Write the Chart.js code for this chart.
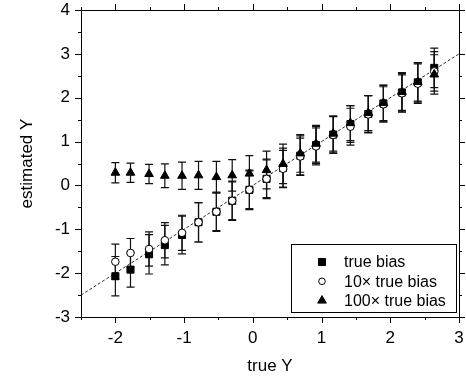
<!DOCTYPE html>
<html>
<head>
<meta charset="utf-8">
<script src="https://cdn.jsdelivr.net/npm/chart.js@4"></script>
<style>
    html, body { margin: 0; padding: 0; background: #fff; }
    #wrap { width: 466px; height: 384px; }
</style>
</head>
<body>
<div id="wrap"><canvas id="biasChart" width="466" height="384"></canvas></div>
<script>
// ========== DATA ==========
const trueY = [-2.00, -1.78, -1.51, -1.28, -1.03, -0.79, -0.53, -0.30, -0.05, 0.20,
               0.44, 0.69, 0.92, 1.17, 1.42, 1.68, 1.90, 2.17, 2.40, 2.64];

const trueBias = [-2.07, -1.92, -1.57, -1.36, -1.13, -0.84, -0.60, -0.35, -0.10, 0.15,
                  0.40, 0.68, 0.92, 1.16, 1.40, 1.63, 1.87, 2.12, 2.35, 2.68];
const trueBiasErr = [0.45, 0.40, 0.45, 0.45, 0.43, 0.45, 0.45, 0.45, 0.45, 0.45,
                     0.45, 0.45, 0.42, 0.42, 0.42, 0.42, 0.42, 0.45, 0.45, 0.45];

const bias10 = [-1.74, -1.54, -1.45, -1.25, -1.08, -0.84, -0.60, -0.35, -0.10, 0.15,
                0.38, 0.66, 0.89, 1.15, 1.34, 1.62, 1.85, 2.10, 2.32, 2.60];
const bias10Err = [0.40, 0.33, 0.39, 0.40, 0.40, 0.45, 0.43, 0.43, 0.43, 0.43,
                   0.42, 0.42, 0.42, 0.42, 0.42, 0.42, 0.40, 0.42, 0.45, 0.45];

const bias100 = [0.29, 0.29, 0.26, 0.22, 0.22, 0.23, 0.19, 0.23, 0.27, 0.35,
                 0.49, 0.73, 0.95, 1.18, 1.42, 1.65, 1.88, 2.13, 2.36, 2.53];
const bias100Err = [0.23, 0.22, 0.22, 0.27, 0.31, 0.32, 0.36, 0.36, 0.41, 0.43,
                    0.45, 0.43, 0.42, 0.40, 0.40, 0.40, 0.40, 0.42, 0.44, 0.45];

const refLineX = [-2.5, 3];
const refLineY = [-2.5, 3];

const xTicks = [-2, -1, 0, 1, 2, 3];
const xMinor = [-2.5, -1.5, -0.5, 0.5, 1.5, 2.5];
const yTicks = [-3, -2, -1, 0, 1, 2, 3, 4];
const yMinor = [-2.5, -1.5, -0.5, 0.5, 1.5, 2.5, 3.5];

const seriesLabels = ['true bias', '10\u00d7 true bias', '100\u00d7 true bias'];

const FONT = 'Arial, "Liberation Sans", Helvetica, sans-serif';

function toPoints(xs, ys) {
    return xs.map((x, i) => ({ x: x, y: ys[i] }));
}

// no label overhang padding, so the plot box fills the frame
function noOverhang(s) {
    s.paddingLeft = 0;
    s.paddingRight = 0;
    s.paddingTop = 0;
    s.paddingBottom = 0;
}

// ========== PLUGINS ==========
// vertical error bars, drawn under the markers
const errorBars = {
    id: 'errorBars',
    beforeDatasetsDraw(chart) {
        const ctx = chart.ctx;
        const xs = chart.scales.x, ys = chart.scales.y;
        ctx.save();
        ctx.strokeStyle = '#111';
        ctx.lineWidth = 1.2;
        chart.data.datasets.forEach(ds => {
            if (!ds.errors) return;
            ds.data.forEach((p, i) => {
                const px = xs.getPixelForValue(p.x);
                const top = ys.getPixelForValue(p.y + ds.errors[i]);
                const bot = ys.getPixelForValue(p.y - ds.errors[i]);
                ctx.beginPath();
                ctx.moveTo(px, top); ctx.lineTo(px, bot);
                ctx.moveTo(px - 4, top); ctx.lineTo(px + 4, top);
                ctx.moveTo(px - 4, bot); ctx.lineTo(px + 4, bot);
                ctx.stroke();
            });
        });
        ctx.restore();
    }
};

// box frame with major / minor ticks on all four sides
const frameTicks = {
    id: 'frameTicks',
    afterDraw(chart) {
        const ctx = chart.ctx;
        const a = chart.chartArea;
        const xs = chart.scales.x, ys = chart.scales.y;
        ctx.save();
        ctx.strokeStyle = '#000';
        ctx.lineWidth = 1;
        ctx.strokeRect(Math.round(a.left) + 0.5, Math.round(a.top) + 0.5,
                       Math.round(a.right - a.left), Math.round(a.bottom - a.top));
        ctx.beginPath();
        const xt = (v, len) => {
            const px = Math.round(xs.getPixelForValue(v)) + 0.5;
            ctx.moveTo(px, a.bottom); ctx.lineTo(px, a.bottom + len);
            ctx.moveTo(px, a.top); ctx.lineTo(px, a.top - len);
        };
        const yt = (v, len) => {
            const py = Math.round(ys.getPixelForValue(v)) + 0.5;
            ctx.moveTo(a.left, py); ctx.lineTo(a.left - len, py);
            ctx.moveTo(a.right, py); ctx.lineTo(a.right + len, py);
        };
        xTicks.forEach(v => xt(v, 6));
        xMinor.forEach(v => xt(v, 3));
        yTicks.forEach(v => yt(v, 6));
        yMinor.forEach(v => yt(v, 3));
        ctx.stroke();
        ctx.restore();
    }
};

// legend box inside the plot, lower right
const boxLegend = {
    id: 'boxLegend',
    afterDraw(chart) {
        const ctx = chart.ctx;
        ctx.save();
        ctx.fillStyle = '#fff';
        ctx.fillRect(291.5, 244.5, 165, 68);
        ctx.strokeStyle = '#000';
        ctx.lineWidth = 1;
        ctx.strokeRect(291.5, 244.5, 165, 68);
        const styles = [
            { pointStyle: 'rect', radius: 5, bg: '#000' },
            { pointStyle: 'circle', radius: 3.3, bg: '#fff' },
            { pointStyle: 'triangle', radius: 5, bg: '#000' }
        ];
        ctx.font = '16px ' + FONT;
        ctx.textBaseline = 'middle';
        seriesLabels.forEach((txt, i) => {
            const y = 262 + i * 19.3;
            ctx.fillStyle = styles[i].bg;
            ctx.strokeStyle = '#000';
            ctx.lineWidth = 1;
            Chart.helpers.drawPoint(ctx, { pointStyle: styles[i].pointStyle, radius: styles[i].radius, rotation: 0, borderWidth: 1 }, 322, y);
            ctx.fillStyle = '#000';
            ctx.fillText(txt, 344, y + 1);
        });
        ctx.restore();
    }
};

// ========== CHART ==========
const ctx = document.getElementById('biasChart').getContext('2d');
new Chart(ctx, {
    type: 'scatter',
    data: {
        datasets: [
            {
                label: seriesLabels[0],
                data: toPoints(trueY, trueBias),
                errors: trueBiasErr,
                pointStyle: 'rect',
                pointRadius: 5,
                backgroundColor: '#000',
                borderColor: '#000',
                borderWidth: 1,
                order: 3
            },
            {
                label: seriesLabels[1],
                data: toPoints(trueY, bias10),
                errors: bias10Err,
                pointStyle: 'circle',
                pointRadius: 3.8,
                backgroundColor: '#fff',
                borderColor: '#000',
                borderWidth: 1,
                order: 2
            },
            {
                label: seriesLabels[2],
                data: toPoints(trueY, bias100),
                errors: bias100Err,
                pointStyle: 'triangle',
                pointRadius: 5,
                backgroundColor: '#000',
                borderColor: '#000',
                borderWidth: 1,
                order: 1
            },
            {
                type: 'line',
                label: 'y = x',
                data: toPoints(refLineX, refLineY),
                borderColor: '#333',
                borderWidth: 1,
                borderDash: [3, 2],
                pointRadius: 0,
                fill: false,
                order: 4
            }
        ]
    },
    options: {
        responsive: false,
        animation: false,
        layout: { padding: { top: 10, right: 7, left: 0, bottom: 0 } },
        plugins: {
            legend: { display: false },
            tooltip: { enabled: false }
        },
        scales: {
            x: {
                type: 'linear',
                min: -2.5,
                max: 3,
                afterBuildTicks: s => { s.ticks = xTicks.map(v => ({ value: v })); },
                afterFit: s => { s.height = 67; noOverhang(s); },
                grid: { display: false, drawTicks: false },
                border: { display: false },
                ticks: { padding: 11, color: '#000', font: { family: FONT, size: 17 } },
                title: { display: true, text: 'true Y', color: '#000', padding: { bottom: 7 }, font: { family: FONT, size: 17 } }
            },
            y: {
                type: 'linear',
                min: -3,
                max: 4,
                afterBuildTicks: s => { s.ticks = yTicks.map(v => ({ value: v })); },
                afterFit: s => { s.width = 81; noOverhang(s); },
                grid: { display: false, drawTicks: false },
                border: { display: false },
                ticks: { padding: 11, color: '#000', font: { family: FONT, size: 17 } },
                title: { display: true, text: 'estimated Y', color: '#000', padding: { top: 17 }, font: { family: FONT, size: 17 } }
            }
        }
    },
    plugins: [errorBars, frameTicks, boxLegend]
});
</script>
</body>
</html>
